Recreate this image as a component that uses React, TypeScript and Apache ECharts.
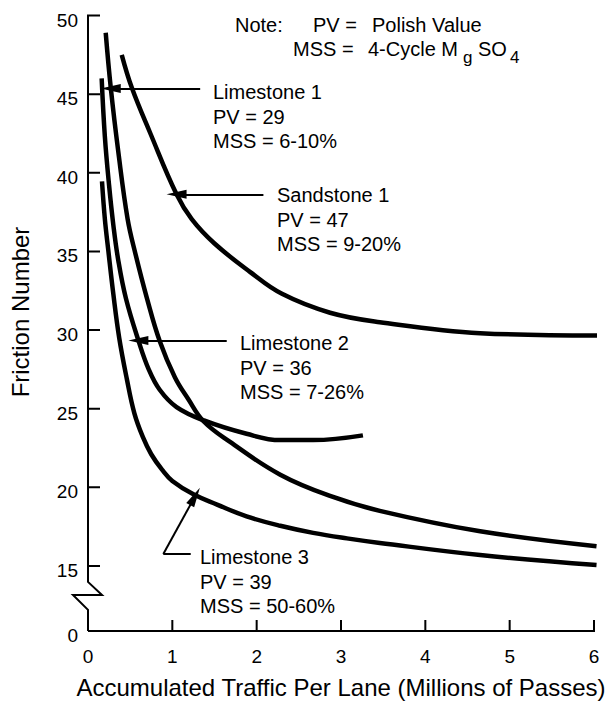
import React, { useEffect, useRef } from "react";
import * as echarts from "echarts";

// ---- axis data ----
const xMin = 0;
const xMax = 6;
const xTickValues = [1, 2, 3, 4, 5, 6];
const yTickValues = [15, 20, 25, 30, 35, 40, 45, 50];
const yBreakBottom = 10.86; // where the "0" of the broken axis sits
const yMax = 50;

// ---- series data ----
const limestone1X = [0.21, 0.27, 0.36, 0.47, 0.56, 0.70, 0.85, 1.03, 1.19, 1.37, 1.68, 2.28, 2.87, 3.46, 4.65, 6.03];
const limestone1Y = [48.9, 45.4, 41.3, 37.05, 34.9, 32.0, 29.3, 27.0, 25.6, 24.2, 22.9, 20.8, 19.45, 18.5, 17.2, 16.25];

const sandstone1X = [0.40, 0.52, 0.735, 1.05, 1.23, 1.50, 1.92, 2.30, 2.87, 3.46, 4.65, 6.04];
const sandstone1Y = [47.5, 45.4, 42.56, 38.63, 37.05, 35.5, 33.7, 32.3, 31.1, 30.5, 29.8, 29.65];

const limestone2X = [0.162, 0.20, 0.25, 0.30, 0.36, 0.45, 0.60, 0.72, 0.85, 1.05, 1.375, 1.88, 2.28, 2.67, 3.26];
const limestone2Y = [46.0, 42.3, 39.2, 36.7, 34.4, 32.0, 29.3, 27.5, 26.2, 25.1, 24.25, 23.4, 23.0, 23.0, 23.3];

const limestone3X = [0.166, 0.20, 0.24, 0.30, 0.37, 0.46, 0.55, 0.65, 0.75, 0.88, 1.0, 1.25, 1.53, 1.88, 2.28, 2.67, 3.07, 3.46, 4.65, 6.03];
const limestone3Y = [39.45, 37.05, 35.1, 32.3, 29.5, 26.9, 24.7, 23.2, 22.1, 21.1, 20.4, 19.55, 18.9, 18.15, 17.55, 17.1, 16.75, 16.46, 15.69, 15.05];

// ---- annotation text ----
const noteLabel = "Note:";
const pvLabel = "PV =";
const pvMeaning = "Polish Value";
const mssLabel = "MSS =";
const mssMeaningA = "4-Cycle M";
const mssSubA = "g";
const mssMeaningB = "SO";
const mssSubB = "4";

const labelL1 = ["Limestone 1", "PV = 29", "MSS = 6-10%"];
const labelS1 = ["Sandstone 1", "PV = 47", "MSS = 9-20%"];
const labelL2 = ["Limestone 2", "PV = 36", "MSS = 7-26%"];
const labelL3 = ["Limestone 3", "PV = 39", "MSS = 50-60%"];

// arrow leader lines in data coordinates: [tailX, tailY, tipX, tipY]
const arrowL1 = [1.33, 45.36, 0.27, 45.36];
const arrowS1 = [2.08, 38.63, 1.05, 38.63];
const arrowL2 = [1.645, 29.34, 0.597, 29.34];
const arrowL3Corner = [0.893, 15.76];
const arrowL3Start = [1.218, 15.76];
const arrowL3Tip = [1.269, 19.42];

const xTitle = "Accumulated Traffic Per Lane (Millions of Passes)";
const yTitle = "Friction Number";

const FONT = '"Liberation Sans", Arial, Helvetica, sans-serif';

const zip = (xs: number[], ys: number[]) => xs.map((x, i) => [x, ys[i]]);

const arrowStyle = { color: "#000", width: 2, type: "solid" as const };

function arrowLine(a: number[]) {
  return [
    { coord: [a[0], a[1]], symbol: "none" },
    { coord: [a[2], a[3]], symbol: "triangle", symbolSize: [9, 20] },
  ];
}

function lineSeries(name: string, xs: number[], ys: number[], marks: any[]) {
  return {
    name,
    type: "line",
    data: zip(xs, ys),
    showSymbol: false,
    symbol: "none",
    smooth: 0.4,
    lineStyle: { color: "#000", width: 4.5 },
    emphasis: { disabled: true },
    silent: true,
    z: 3,
    markLine: {
      silent: true,
      animation: false,
      symbol: ["none", "triangle"],
      symbolSize: [9, 20],
      lineStyle: arrowStyle,
      label: { show: false },
      emphasis: { disabled: true },
      data: marks,
    },
  };
}

export default function App() {
  const ref = useRef<HTMLDivElement>(null);

  useEffect(() => {
    if (!ref.current) return;
    const chart = echarts.init(ref.current, null, { renderer: "svg" });

    const option: any = {
      animation: false,
      backgroundColor: "#fff",
      grid: { left: 88, right: 18, top: 15.5, bottom: 70.7, containLabel: false },
      xAxis: {
        type: "value",
        min: xMin,
        max: xMax,
        interval: 1,
        axisLine: { show: false },
        axisTick: { show: false },
        axisLabel: { color: "#000", fontSize: 19, fontFamily: FONT, margin: 16 },
        splitLine: { show: false },
        name: xTitle,
        nameLocation: "middle",
        nameGap: 44,
        nameTextStyle: { color: "#000", fontSize: 24, fontFamily: FONT },
      },
      yAxis: {
        type: "value",
        min: yBreakBottom,
        max: yMax,
        axisLine: { show: false },
        axisTick: { show: false },
        axisLabel: {
          color: "#000",
          fontSize: 19,
          fontFamily: FONT,
          margin: 10,
          verticalAlign: "top",
          lineHeight: 9,
          customValues: [yBreakBottom, ...yTickValues],
          formatter: (v: number) => (v < 14 ? "0" : String(Math.round(v))),
        },
        splitLine: { show: false },
      },
      series: [
        lineSeries("Limestone 1", limestone1X, limestone1Y, [arrowLine(arrowL1)]),
        lineSeries("Sandstone 1", sandstone1X, sandstone1Y, [arrowLine(arrowS1)]),
        lineSeries("Limestone 2", limestone2X, limestone2Y, [arrowLine(arrowL2)]),
        lineSeries("Limestone 3", limestone3X, limestone3Y, [
          [
            { coord: arrowL3Start, symbol: "none" },
            { coord: arrowL3Corner, symbol: "none" },
          ],
          [
            { coord: arrowL3Corner, symbol: "none" },
            { coord: arrowL3Tip, symbol: "triangle", symbolSize: [9, 20] },
          ],
        ]),
      ],
    };
    chart.setOption(option);

    const px = (v: number) => Number(chart.convertToPixel({ xAxisIndex: 0 } as any, v));
    const py = (v: number) => Number(chart.convertToPixel({ yAxisIndex: 0 } as any, v));
    const ax = px(xMin);
    const ay = py(yBreakBottom);
    const y15 = py(15);
    const tickY = 12;
    const tickX = 11;

    // y axis as one stroke: ticks (inside) from the top, then the break zigzag, down to the origin
    const yComb: number[][] = [];
    [...yTickValues].reverse().forEach((v) => {
      const y = py(v);
      yComb.push([ax, y], [ax + tickY, y], [ax, y]);
    });
    yComb.push([ax, y15 + 16], [ax + 14, y15 + 29], [ax - 15, y15 + 29], [ax, y15 + 44], [ax, ay]);

    // x axis as one stroke with its inside ticks
    const xComb: number[][] = [[ax, ay]];
    xTickValues.forEach((v) => {
      const x = px(v);
      xComb.push([x, ay], [x, ay - tickX], [x, ay]);
    });

    const stroke = (points: number[][]) => ({
      type: "polyline",
      z: 100,
      silent: true,
      shape: { points },
      style: { stroke: "#000", lineWidth: 2, fill: null, lineJoin: "miter", lineCap: "butt" },
    });

    const txt = (text: string, x: number, y: number, size = 20) => ({
      type: "text",
      x,
      y,
      z: 50,
      silent: true,
      style: {
        text,
        fill: "#000",
        font: `${size}px ${FONT}`,
        align: "left",
        verticalAlign: "middle",
      },
    });

    const block = (lines: string[], x: number, yTop: number) => ({
      type: "text",
      x,
      y: yTop,
      z: 50,
      silent: true,
      style: {
        text: lines.join("\n"),
        fill: "#000",
        font: `20px ${FONT}`,
        lineHeight: 24.5,
        align: "left",
        verticalAlign: "top",
      },
    });

    chart.setOption({
      graphic: [
        stroke(yComb),
        stroke(xComb),
        txt(noteLabel, 235, 25),
        txt(pvLabel, 313, 25),
        txt(pvMeaning, 372, 25),
        txt(mssLabel, 293, 49),
        txt(mssMeaningA, 368, 49),
        txt(mssSubA, 463, 57, 17),
        txt(mssMeaningB, 478, 49),
        txt(mssSubB, 510, 57, 17),
        block(labelL1, 213, 80),
        block(labelS1, 277, 183),
        block(labelL2, 240, 331),
        block(labelL3, 200, 545),
        {
          type: "text",
          x: 20,
          y: 312,
          rotation: Math.PI / 2,
          z: 50,
          silent: true,
          style: {
            text: yTitle,
            fill: "#000",
            font: `24px ${FONT}`,
            align: "center",
            verticalAlign: "middle",
          },
        },
      ],
    });

    return () => chart.dispose();
  }, []);

  return (
    <div
      ref={ref}
      style={{ position: "absolute", left: 0, top: 0, width: 612, height: 704, background: "#fff" }}
    />
  );
}
